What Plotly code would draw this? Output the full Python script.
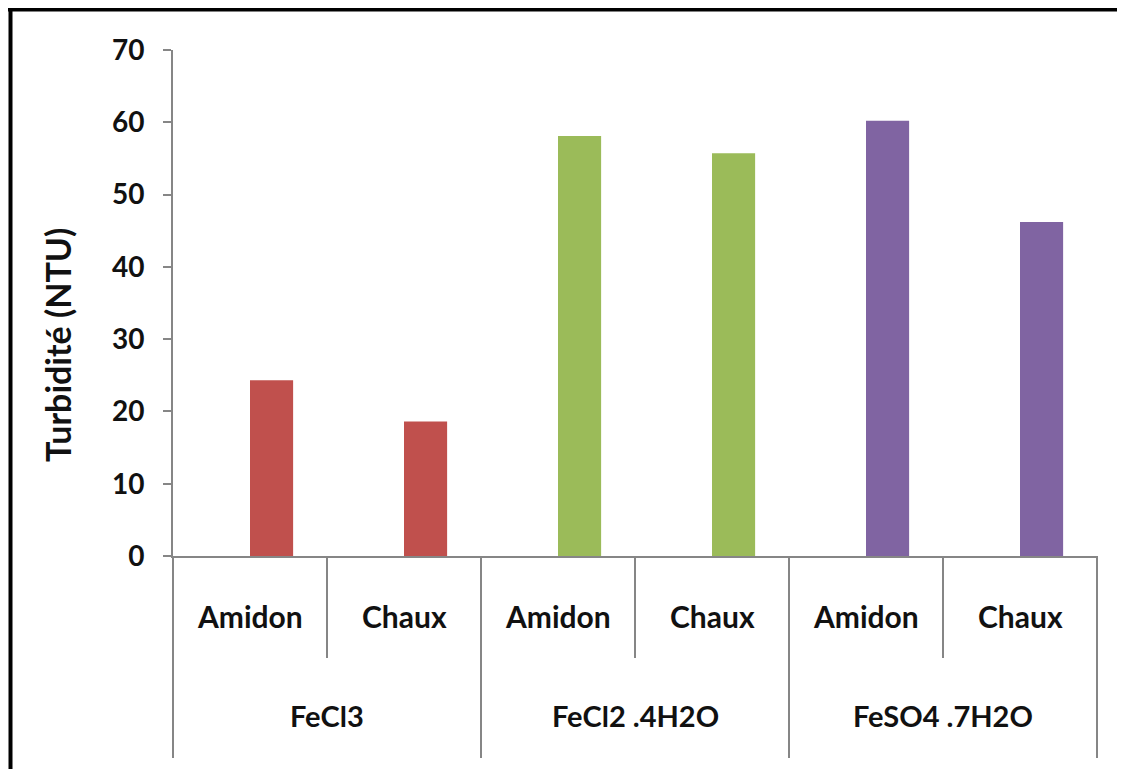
import plotly.graph_objects as go

# ---- data ----
groups = ["FeCl3", "FeCl2 .4H2O", "FeSO4 .7H2O"]
subgroups = ["Amidon", "Chaux"]
values = [24.3, 18.6, 58.1, 55.7, 60.2, 46.2]
group_colors = ["#C0504D", "#9BBB59", "#8064A2"]
y_ticks = [0, 10, 20, 30, 40, 50, 60, 70]
y_title = "Turbidité (NTU)"

# ---- derived ----
cats = [f"{g}|{s}" for g in groups for s in subgroups]
bar_colors = [c for c in group_colors for _ in subgroups]
n = len(cats)

PAGE_W, PAGE_H = 1125, 769
OFF = 8  # default body margin of the html page
W, H = PAGE_W - OFF, PAGE_H - OFF

# target positions in page pixels
PLOT_L, PLOT_R, PLOT_T, PLOT_B = 173, 1097, 50, 556
L = PLOT_L - OFF
T = PLOT_T - OFF
R = W - (PLOT_R - OFF)
B = H - (PLOT_B - OFF)
plot_w = PLOT_R - PLOT_L
plot_h = PLOT_B - PLOT_T

FONT = "Lato"
GRAY = "#868686"
TXT = "#111111"

def px_y(p):  # page pixel y -> paper y
    return (PLOT_B - p) / plot_h

def px_x(p):  # page pixel x -> paper x
    return (p - PLOT_L) / plot_w

fig = go.Figure()
fig.add_trace(go.Bar(
    x=cats, y=values,
    marker=dict(color=bar_colors, line=dict(width=0)),
    width=0.28, offset=0.0,
    showlegend=False,
))

shapes = []
# category separators
for k in range(n + 1):
    outer = (k % len(subgroups) == 0)
    shapes.append(dict(
        type="line", xref="paper", yref="paper",
        x0=k / n, x1=k / n, y0=0, y1=px_y(758 if outer else 658),
        line=dict(color=GRAY, width=2),
    ))
# image frame (top & left)
shapes.append(dict(type="line", xref="paper", yref="paper",
                   x0=px_x(8), x1=px_x(PAGE_W + 10), y0=px_y(9.5), y1=px_y(9.5),
                   line=dict(color="black", width=4)))
shapes.append(dict(type="line", xref="paper", yref="paper",
                   x0=px_x(10.5), x1=px_x(10.5), y0=px_y(PAGE_H + 10), y1=px_y(8),
                   line=dict(color="black", width=4)))

annotations = []
for i, c in enumerate(cats):
    annotations.append(dict(
        x=c, xref="x", y=px_y(616), yref="paper",
        text=c.split("|")[1], showarrow=False,
        xanchor="center", yanchor="middle",
        font=dict(family=FONT, size=30, color=TXT, weight=700),
    ))
for gi, g in enumerate(groups):
    annotations.append(dict(
        x=(gi * len(subgroups) + len(subgroups) / 2) / n, xref="paper",
        y=px_y(715), yref="paper",
        text=g, showarrow=False, xanchor="center", yanchor="middle",
        font=dict(family=FONT, size=29, color=TXT, weight=700),
    ))
annotations.append(dict(
    x=px_x(57), xref="paper", y=px_y(345), yref="paper",
    text=y_title, textangle=-90, showarrow=False,
    xanchor="center", yanchor="middle",
    font=dict(family=FONT, size=34, color=TXT, weight=700),
))

fig.update_layout(
    width=W, height=H,
    margin=dict(l=L, r=R, t=T, b=B, pad=0),
    paper_bgcolor="white", plot_bgcolor="white",
    shapes=shapes, annotations=annotations,
    xaxis=dict(
        type="category", categoryorder="array", categoryarray=cats,
        range=[-0.5, n - 0.5],
        showline=True, linecolor=GRAY, linewidth=2,
        showticklabels=False, ticks="", showgrid=False, zeroline=False,
    ),
    yaxis=dict(
        range=[0, 70], tickvals=y_ticks,
        showline=True, linecolor=GRAY, linewidth=2,
        ticks="outside", ticklen=8, tickwidth=2, tickcolor=GRAY,
        ticklabelstandoff=13,
        tickfont=dict(family=FONT, size=28, color=TXT, weight=700),
        showgrid=False, zeroline=False,
    ),
)

fig.write_html("out.html")
